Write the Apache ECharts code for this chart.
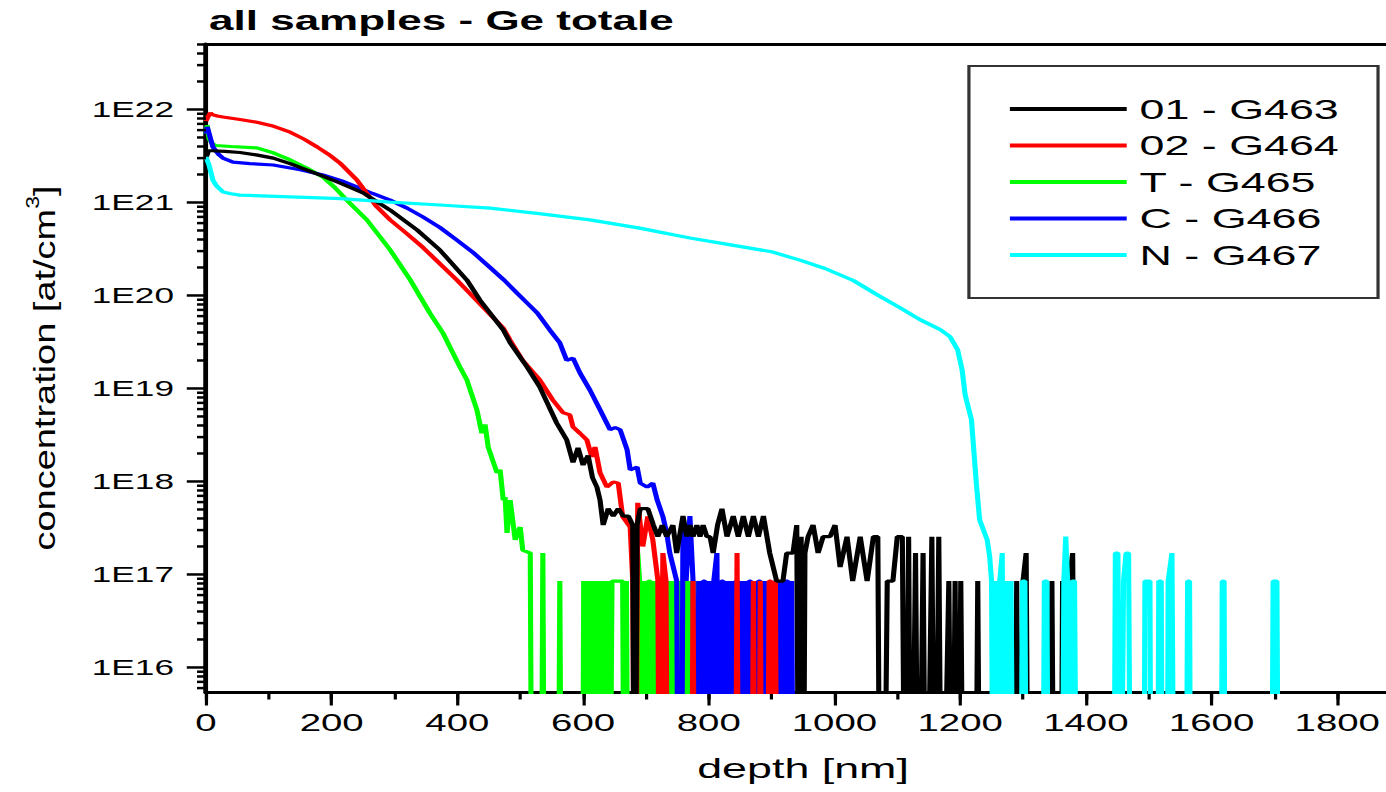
<!DOCTYPE html>
<html><head><meta charset="utf-8">
<script src="https://cdn.jsdelivr.net/npm/echarts@6/dist/echarts.min.js"></script>
<style>
html,body{margin:0;padding:0;background:#fff;overflow:hidden;width:1386px;height:792px;}
#chart{width:866px;height:792px;transform:scaleX(1.60046);transform-origin:0 0;}
</style></head><body><div id="chart"></div>
<script>
// ---- data: [depth nm, concentration at/cm3]; 0 = no counts (below axis)
const s01 = [[0,3.0e21],[4,3.6e21],[10,3.6e21],[30,3.55e21],[54,3.45e21],[80,3.25e21],[107,3.0e21],[135,2.6e21],[161,2.23e21],[188,1.9e21],
[213,1.62e21],[250,1.27e21],[293,8.3e20],[336,5.06e20],[372,3.09e20],[415,1.47e20],[436,8.9e19],[473,4.26e19],[484,3.1e19],[511,1.7e19],
[531,1.04e19],[558,4.26e18],[574,2.8e18],[584,1.6e18],[592,2.3e18],[600,1.5e18],[608,1.9e18],[615,1.1e18],[622,8.7e17],[627,6.3e17],
[632,3.4e17],[640,5.1e17],[648,4.25e17],[656,5.1e17],[664,4.25e17],[672,4.25e17],[679,3.4e17],[682,0],[686,3.4e17],[691,5.1e17],
[697,5.1e17],[703,5.1e17],[712,3.4e17],[719,2.55e17],[726,3.4e17],[733,2.55e17],[743,3.4e17],[749,1.7e17],[759,4.25e17],[765,2.55e17],
[770,3.4e17],[775,2.55e17],[781,3.4e17],[786,2.55e17],[791,3.4e17],[797,2.55e17],[802,2.55e17],[807,1.7e17],[814,3.4e17],[821,5.1e17],
[829,2.55e17],[839,4.25e17],[847,2.55e17],[855,4.25e17],[863,2.55e17],[871,4.25e17],[879,2.55e17],[887,4.25e17],[897,1.7e17],[908,8.5e16],
[918,8.5e16],[924,1.7e17],[934,1.7e17],[940,3.4e17],[944,0],[947,2.55e17],[950,0],[953,1.7e17],[958,2.55e17],[966,3.4e17],
[974,1.7e17],[982,2.55e17],[993,2.55e17],[1001,3.4e17],[1009,1.2e17],[1020,2.55e17],[1029,8.5e16],[1041,2.55e17],[1052,8.5e16],[1062,2.55e17],
[1069,2.55e17],[1073,0],[1078,0],[1084,8.5e16],[1093,8.5e16],[1100,2.55e17],[1108,2.55e17],[1113,0],[1118,2.55e17],[1122,0],
[1129,1.7e17],[1134,0],[1141,1.7e17],[1146,0],[1155,2.55e17],[1160,0],[1166,2.55e17],[1171,0],[1182,8.5e16],[1187,0],
[1192,8.5e16],[1196,0],[1201,8.5e16],[1206,0],[1224,0],[1228,8.5e16],[1232,0],[1286,0],[1290,8.5e16],[1294,0],
[1300,8.5e16],[1305,1.7e17],[1309,0],[1342,0],[1346,8.5e16],[1350,0],[1360,0],[1363,8.5e16],[1367,0],[1374,8.5e16],
[1379,1.7e17],[1384,0],[1390,0]];

const s02 = [[0,7.5e21],[3,8.3e21],[7,9.2e21],[10,8.8e21],[18,8.5e21],[27,8.3e21],[54,7.8e21],[81,7.3e21],[108,6.6e21],[134,5.7e21],
[156,4.8e21],[177,3.95e21],[195,3.3e21],[213,2.66e21],[240,1.75e21],[256,1.25e21],[272,8.95e20],[293,6.5e20],[320,4.6e20],[345,3.3e20],
[372,2.2e20],[399,1.47e20],[420,1.05e20],[441,7.5e19],[473,4.47e19],[484,3.3e19],[504,2.0e19],[531,1.24e19],[552,7.5e18],[568,5.5e18],
[579,5.2e18],[584,3.86e18],[595,3.3e18],[606,2.8e18],[614,1.83e18],[619,2.35e18],[627,1.24e18],[638,8.7e17],[648,9.9e17],[656,9.6e17],
[663,4.2e17],[675,3.24e17],[679,8.7e16],[683,0],[687,5.9e17],[695,2.0e17],[703,4.2e17],[711,2.35e17],[719,8.7e16],[722,0],
[727,1.7e17],[732,8.5e16],[735,0],[772,0],[775,8.5e16],[778,0],[842,0],[845,1.7e17],[848,0],[868,0],
[871,8.5e16],[874,0],[879,0],[882,8.5e16],[885,0],[893,0],[896,8.5e16],[899,8.5e16],[902,0],[906,8.5e16],
[909,0],[915,0]];

const sT = [[0,5.5e21],[2,6.8e21],[5,4.8e21],[10,4.3e21],[15,4.1e21],[40,4.0e21],[81,3.86e21],[108,3.4e21],[134,2.87e21],[160,2.35e21],
[186,1.88e21],[205,1.45e21],[224,1.06e21],[256,6.5e20],[293,3.09e20],[325,1.47e20],[356,6.5e19],[377,3.95e19],[404,1.7e19],[415,1.24e19],
[431,5.9e18],[439,3.3e18],[444,4.1e18],[449,2.35e18],[463,1.24e18],[468,1.33e18],[473,6.3e17],[476,6.8e17],[479,2.8e17],[484,6.3e17],
[492,2.35e17],[500,3.24e17],[504,1.83e17],[516,1.7e17],[519,0],[533,0],[536,1.7e17],[539,0],[560,0],[563,8.5e16],
[566,0],[599,0],[601,8.5e16],[604,0],[607,8.5e16],[610,0],[613,8.5e16],[616,0],[619,8.5e16],[622,0],
[626,8.5e16],[629,0],[633,8.5e16],[636,0],[639,8.5e16],[642,0],[646,8.5e16],[652,8.5e16],[657,8.5e16],[663,8.5e16],
[666,0],[669,8.5e16],[672,0],[684,0],[687,1.7e17],[690,8.5e16],[693,0],[697,8.5e16],[700,0],[704,8.5e16],
[707,8.5e16],[710,0],[713,8.5e16],[716,0],[720,8.5e16],[723,0],[727,8.5e16],[730,0],[733,8.5e16],[736,0],
[739,8.5e16],[742,0],[745,8.5e16],[748,0],[751,8.5e16],[754,0],[757,8.5e16],[760,0],[763,8.5e16],[766,0],
[770,8.5e16],[773,0],[780,0],[783,8.5e16],[786,0],[794,0],[797,8.5e16],[800,0]];

const sC = [[0,5.5e21],[2,6.5e21],[5,5.5e21],[11,3.95e21],[20,3.3e21],[27,3.0e21],[43,2.72e21],[70,2.62e21],[107,2.53e21],[150,2.25e21],
[186,1.98e21],[215,1.72e21],[240,1.47e21],[265,1.25e21],[293,1.06e21],[320,8.7e20],[345,7.0e20],[372,5.4e20],[399,3.95e20],[425,2.9e20],
[452,2.0e20],[475,1.45e20],[495,1.06e20],[511,8.3e19],[527,6.5e19],[547,4.26e19],[563,3.1e19],[574,2.0e19],[584,2.12e19],[595,1.47e19],
[611,9.6e18],[627,5.9e18],[643,3.6e18],[651,3.8e18],[659,3.6e18],[670,2.2e18],[675,1.33e18],[686,1.43e18],[691,9.6e17],[702,8.7e17],
[711,9.6e17],[718,6.3e17],[727,4.2e17],[733,2.8e17],[738,1.7e17],[749,8.5e16],[752,0],[756,0],[759,3.8e17],[764,8.5e16],
[770,4.25e17],[775,8.5e16],[780,0],[784,8.5e16],[787,0],[791,8.5e16],[794,8.5e16],[797,0],[801,8.5e16],[804,0],
[808,8.5e16],[813,1.7e17],[816,0],[820,8.5e16],[823,8.5e16],[826,0],[830,8.5e16],[833,0],[837,8.5e16],[840,0],
[843,8.5e16],[846,8.5e16],[849,0],[852,8.5e16],[855,0],[858,8.5e16],[861,0],[864,8.5e16],[867,8.5e16],[870,0],
[873,8.5e16],[876,0],[879,8.5e16],[882,8.5e16],[885,0],[888,8.5e16],[891,0],[894,8.5e16],[897,0],[900,8.5e16],
[903,0],[906,8.5e16],[909,8.5e16],[912,0],[916,8.5e16],[919,0],[922,8.5e16],[926,8.5e16],[929,0],[932,8.5e16],
[935,0]];

const sN = [[0,3.1e21],[5,2.5e21],[11,1.74e21],[17,1.5e21],[27,1.3e21],[40,1.24e21],[54,1.2e21],[134,1.15e21],[215,1.1e21],[293,1.01e21],
[372,9.4e20],[452,8.7e20],[530,7.6e20],[611,6.5e20],[690,5.3e20],[770,4.15e20],[835,3.5e20],[900,2.95e20],[945,2.4e20],[985,1.95e20],
[1030,1.45e20],[1070,1.0e20],[1104,7.4e19],[1136,5.5e19],[1168,4.3e19],[1184,3.6e19],[1196,2.6e19],[1203,1.6e19],[1208,8.5e18],[1218,4.6e18],
[1226,9.1e17],[1231,3.86e17],[1243,2.35e17],[1247,1.55e17],[1250,8.5e16],[1253,0],[1256,8.5e16],[1259,0],[1263,8.5e16],[1267,1.7e17],
[1270,0],[1274,8.5e16],[1278,0],[1281,8.5e16],[1285,0],[1296,0],[1299,8.5e16],[1303,8.5e16],[1306,0],[1331,0],
[1334,8.5e16],[1338,8.5e16],[1341,0],[1362,0],[1365,8.5e16],[1368,2.55e17],[1371,8.5e16],[1374,0],[1378,8.5e16],[1382,8.5e16],
[1386,0],[1444,0],[1447,1.7e17],[1451,1.7e17],[1455,0],[1460,8.5e16],[1464,1.7e17],[1468,1.7e17],[1472,0],[1492,0],
[1494,8.5e16],[1502,8.5e16],[1504,0],[1514,0],[1516,8.5e16],[1520,8.5e16],[1522,0],[1529,0],[1531,8.5e16],[1537,1.7e17],
[1541,0],[1559,0],[1562,8.5e16],[1565,8.5e16],[1567,0],[1615,0],[1617,8.5e16],[1620,8.5e16],[1622,0],[1695,0],
[1698,8.5e16],[1704,8.5e16],[1707,0]];

const seriesNames = ['01 - G463', '02 - G464', 'T - G465', 'C - G466', 'N - G467'];
const xTickValues = [0, 200, 400, 600, 800, 1000, 1200, 1400, 1600, 1800];
const xTickLabels = ['0', '200', '400', '600', '800', '1000', '1200', '1400', '1600', '1800'];
const yDecades = [16, 17, 18, 19, 20, 21, 22];
const yTickLabels = ['1E16', '1E17', '1E18', '1E19', '1E20', '1E21', '1E22'];
const yMinorMantissa = [2, 3, 4, 5, 6, 7, 8, 9];

// ---- layout / style
const Y_MIN = 5.38e15, Y_MAX = 5.06e22, ZERO_FLOOR = 1e13;
const FONT = '"Liberation Sans", Arial, sans-serif';

const chart = echarts.init(document.getElementById('chart'), null, { renderer: 'svg' });

function toData(arr) { return arr.map(p => [p[0], p[1] > 0 ? p[1] : ZERO_FLOOR]); }

// y-axis tick marks (decades long, 2..9 short)
const yTicks = [];
for (let e = 15; e <= 22; e++) {
  if (Math.pow(10, e) >= Y_MIN && Math.pow(10, e) <= Y_MAX) yTicks.push([0, Math.pow(10, e), 1]);
  yMinorMantissa.forEach(m => { const v = m * Math.pow(10, e); if (v >= Y_MIN && v <= Y_MAX) yTicks.push([0, v, 0]); });
}

function lineSeries(name, arr, color) {
  return {
    name: name, type: 'line', data: toData(arr), showSymbol: false, symbol: 'none',
    lineStyle: { color: color, width: 3.2 }, itemStyle: { color: color },
    animation: false, clip: true, silent: true
  };
}

const option = {
  backgroundColor: '#ffffff',
  animation: false,
  title: {
    text: 'all samples - Ge totale', left: 130.6, top: 7, padding: 0,
    textStyle: { fontFamily: FONT, fontWeight: 'bold', fontSize: 27.5, color: '#000' }
  },
  grid: { left: 128.7, right: -8.8, top: 44, bottom: 99.5, containLabel: false, outerBoundsMode: 'none' },
  legend: {
    orient: 'vertical', left: 605.4, top: 66, data: seriesNames, icon: 'rect',
    itemWidth: 73, itemHeight: 4, itemGap: 6.5, padding: [28, 24.5, 28, 25.6],
    backgroundColor: '#fff', borderColor: '#333', borderWidth: 2, selectedMode: false,
    textStyle: { fontFamily: FONT, fontSize: 28, color: '#000', lineHeight: 30, padding: [0, 0, 0, 3] }
  },
  xAxis: [
    {
      type: 'value', position: 'bottom', min: 0, max: 1900, interval: 100,
      axisLine: { show: true, onZero: false, lineStyle: { color: '#000', width: 3 } },
      axisTick: { show: true, inside: false, length: 7, lineStyle: { color: '#000', width: 2 } },
      splitLine: { show: false },
      axisLabel: {
        fontFamily: FONT, fontSize: 24, color: '#000', margin: 18,
        formatter: v => { const i = xTickValues.indexOf(v); return i >= 0 ? xTickLabels[i] : ''; }
      },
      name: 'depth [nm]', nameLocation: 'middle', nameGap: 62,
      nameTextStyle: { fontFamily: FONT, fontSize: 28, color: '#000' }
    },
    {
      type: 'value', position: 'bottom', min: 0, max: 1900, interval: 200,
      axisLine: { show: false }, axisLabel: { show: false }, splitLine: { show: false },
      axisTick: { show: true, inside: false, length: 13, lineStyle: { color: '#000', width: 2 } }
    },
    {
      type: 'value', position: 'top', min: 0, max: 1900,
      axisLine: { show: true, onZero: false, lineStyle: { color: '#000', width: 3 } },
      axisTick: { show: false }, axisLabel: { show: false }, splitLine: { show: false }
    }
  ],
  yAxis: {
    type: 'log', logBase: 10, min: Y_MIN, max: Y_MAX,
    axisLine: { show: true, onZero: false, lineStyle: { color: '#000', width: 3 } },
    axisTick: { show: false }, minorTick: { show: false }, splitLine: { show: false },
    axisLabel: {
      fontFamily: FONT, fontSize: 22, color: '#000', margin: 20,
      formatter: v => {
        const l = Math.log10(v), r = Math.round(l);
        if (Math.abs(l - r) > 1e-6) return '';
        const i = yDecades.indexOf(r); return i >= 0 ? yTickLabels[i] : '';
      }
    }
  },
  graphic: [{
    type: 'text', x: 26, y: 368, rotation: Math.PI / 2, scaleX: 1.15, scaleY: 0.56, z: 10,
    style: {
      text: '{a|concentration [at/cm}{s|3}{a|]}', align: 'center', verticalAlign: 'middle',
      rich: {
        a: { fontFamily: FONT, fontSize: 33, fill: '#000', lineHeight: 40, verticalAlign: 'bottom' },
        s: { fontFamily: FONT, fontSize: 20, fill: '#000', lineHeight: 20, verticalAlign: 'top' }
      }
    }
  }],
  series: [
    lineSeries('T - G465', sT, '#00ff00'),
    lineSeries('C - G466', sC, '#0000ff'),
    lineSeries('02 - G464', s02, '#ff0000'),
    lineSeries('01 - G463', s01, '#000000'),
    lineSeries('N - G467', sN, '#00ffff'),
    {
      type: 'custom', coordinateSystem: 'cartesian2d', xAxisIndex: 0, yAxisIndex: 0,
      data: yTicks, silent: true, clip: false, animation: false, z: 5,
      renderItem: (params, api) => {
        const p = api.coord([0, api.value(1)]);
        const len = api.value(2) === 1 ? 12 : 5.6;
        return { type: 'line', shape: { x1: p[0] - len, y1: p[1], x2: p[0], y2: p[1] },
                 style: { stroke: '#000', lineWidth: 2.5 } };
      }
    }
  ]
};
chart.setOption(option);
</script></body></html>
